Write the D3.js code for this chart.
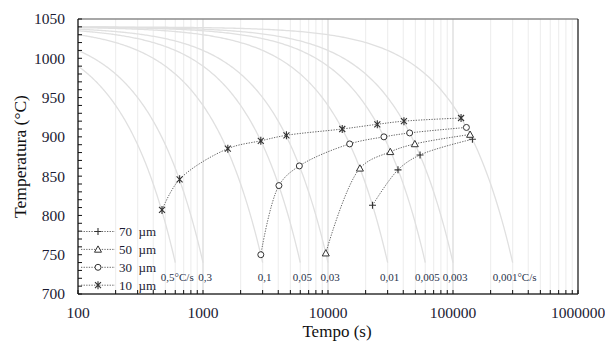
<!DOCTYPE html>
<html>
<head>
<meta charset="utf-8">
<script src="https://cdn.jsdelivr.net/npm/d3@7"></script>
<style>
  html, body { margin: 0; padding: 0; background: #fff; }
  svg { display: block; }
</style>
</head>
<body>
<svg id="chart" width="605" height="343"></svg>
<script>
// ---- data ----
const rates = [0.5, 0.3, 0.1, 0.05, 0.03, 0.01, 0.005, 0.003, 0.001];
const rateLabels = ["0,5°C/s", "0,3", "0,1", "0,05", "0,03", "0,01", "0,005", "0,003", "0,001°C/s"];
const startTemp = 1040;
const endTemp = 740;

const legendNames = ["70  µm", "50  µm", "30  µm", "10  µm"];
const time70 = [22700, 36300, 54500, 143000];
const temp70 = [813, 858, 877, 897];
const time50 = [9600, 18000, 31500, 49500, 137000];
const temp50 = [752, 860, 881, 891, 903];
const time30 = [2900, 4050, 5900, 14900, 28000, 45000, 128000];
const temp30 = [750, 838, 863, 891, 900, 905, 912];
const time10 = [470, 650, 1580, 2900, 4650, 13000, 24800, 40500, 116000];
const temp10 = [807, 846, 885, 895, 902, 910, 916, 920, 924];

const yTicks = [700, 750, 800, 850, 900, 950, 1000, 1050];
const xTicks = [100, 1000, 10000, 100000, 1000000];
const xTickLabels = ["100", "1000", "10000", "100000", "1000000"];
const xTitle = "Tempo (s)";
const yTitle = "Temperatura (°C)";

// ---- layout ----
const FONT = "Liberation Serif";
const L = 78, R = 578, T = 19, B = 294;
const svg = d3.select("#chart");
const x = d3.scaleLog().domain([100, 1000000]).range([L, R]);
const y = d3.scaleLinear().domain([700, 1050]).range([B, T]);

// vertical gridlines (minor + major)
const minor = [];
for (let d = 100; d < 1000000; d *= 10) for (let k = 1; k <= 9; k++) minor.push(d * k);
minor.push(1000000);
svg.append("g").selectAll("line").data(minor.filter(v => v > 100 && v < 1000000)).join("line")
  .attr("x1", d => x(d)).attr("x2", d => x(d)).attr("y1", T).attr("y2", B)
  .attr("stroke", d => xTicks.includes(d) ? "#d9d9d9" : "#efefef").attr("stroke-width", 1.2);

// cooling curves
svg.append("clipPath").attr("id", "plotclip").append("rect")
  .attr("x", L).attr("y", T).attr("width", R - L).attr("height", B - T);
const coolG = svg.append("g").attr("clip-path", "url(#plotclip)");
const coolLine = d3.line().x(d => x(d[0])).y(d => y(d[1]));
rates.forEach(r => {
  const tEnd = (startTemp - endTemp) / r;
  const pts = [];
  const n = 200;
  const lo = Math.log10(100), hi = Math.log10(tEnd);
  for (let i = 0; i <= n; i++) {
    const t = Math.pow(10, lo + (hi - lo) * i / n);
    pts.push([t, startTemp - r * t]);
  }
  coolG.append("path").attr("d", coolLine(pts)).attr("fill", "none")
    .attr("stroke", "#e0e0e0").attr("stroke-width", 1.3);
});

// rate labels
svg.append("g").selectAll("text").data(rates).join("text")
  .attr("x", r => x((startTemp - endTemp) / r) + 2)
  .attr("y", 281)
  .attr("text-anchor", "middle")
  .attr("font-family", FONT)
  .attr("font-size", 11)
  .attr("fill", "#27324a")
  .text((r, i) => rateLabels[i]);

// axes frame
svg.append("line").attr("x1", L).attr("x2", R).attr("y1", T).attr("y2", T).attr("stroke", "#8a8a8a").attr("stroke-width", 1.6);
svg.append("line").attr("x1", R).attr("x2", R).attr("y1", T).attr("y2", B).attr("stroke", "#222").attr("stroke-width", 1.3);
svg.append("line").attr("x1", L).attr("x2", R).attr("y1", B).attr("y2", B).attr("stroke", "#333").attr("stroke-width", 1.3);
svg.append("line").attr("x1", L).attr("x2", L).attr("y1", T).attr("y2", B).attr("stroke", "#111").attr("stroke-width", 1.3);

// inward minor ticks
const yMinor = d3.range(700, 1051, 10);
svg.append("g").selectAll("line").data(yMinor).join("line")
  .attr("x1", L).attr("x2", L + 4).attr("y1", d => y(d)).attr("y2", d => y(d))
  .attr("stroke", "#111").attr("stroke-width", 1);
svg.append("g").selectAll("line").data(minor).join("line")
  .attr("x1", d => x(d)).attr("x2", d => x(d)).attr("y1", B).attr("y2", B - 4)
  .attr("stroke", "#111").attr("stroke-width", 1);

// tick labels
svg.append("g").selectAll("text").data(yTicks).join("text")
  .attr("x", 65).attr("y", d => y(d)).attr("dy", "0.35em")
  .attr("text-anchor", "end").attr("font-family", FONT).attr("font-size", 15.5).attr("fill", "#1b1b33")
  .text(d => d);
svg.append("g").selectAll("text").data(xTicks).join("text")
  .attr("x", d => x(d)).attr("y", 318)
  .attr("text-anchor", "middle").attr("font-family", FONT).attr("font-size", 15.5).attr("fill", "#1b1b33")
  .text((d, i) => xTickLabels[i]);

// titles
svg.append("text").attr("x", 337).attr("y", 337).attr("text-anchor", "middle")
  .attr("font-family", FONT).attr("font-size", 17).attr("fill", "#111").text(xTitle);
svg.append("text").attr("transform", `translate(26,${(T + B) / 2}) rotate(-90)`)
  .attr("text-anchor", "middle").attr("font-family", FONT).attr("font-size", 17.5).attr("fill", "#111").text(yTitle);

// markers
function drawMarker(g, type, cx, cy) {
  const c = "#333";
  if (type === "plus") {
    g.append("path").attr("d", `M${cx-3.5},${cy}H${cx+3.5}M${cx},${cy-3.5}V${cy+3.5}`).attr("stroke", c).attr("stroke-width", 1.1);
  } else if (type === "tri") {
    g.append("path").attr("d", `M${cx},${cy-3.5}L${cx+3.5},${cy+2.8}L${cx-3.5},${cy+2.8}Z`).attr("stroke", c).attr("fill", "#fff").attr("stroke-width", 1);
  } else if (type === "circ") {
    g.append("circle").attr("cx", cx).attr("cy", cy).attr("r", 3).attr("stroke", c).attr("fill", "#fff").attr("stroke-width", 1);
  } else {
    g.append("path").attr("d", `M${cx-3},${cy-3}L${cx+3},${cy+3}M${cx-3},${cy+3}L${cx+3},${cy-3}M${cx},${cy-4}V${cy+4}`)
      .attr("stroke", c).attr("stroke-width", 1.1);
  }
}

const series = [
  { name: legendNames[0], t: time70, v: temp70, m: "plus" },
  { name: legendNames[1], t: time50, v: temp50, m: "tri" },
  { name: legendNames[2], t: time30, v: temp30, m: "circ" },
  { name: legendNames[3], t: time10, v: temp10, m: "star" }
];
const sLine = d3.line().x(d => x(d[0])).y(d => y(d[1])).curve(d3.curveCatmullRom.alpha(0.5));
const sg = svg.append("g");
series.forEach(s => {
  const pts = s.t.map((t, i) => [t, s.v[i]]);
  sg.append("path").attr("d", sLine(pts)).attr("fill", "none")
    .attr("stroke", "#555").attr("stroke-width", 0.9).attr("stroke-dasharray", "1.3,1.3");
});
series.forEach(s => {
  s.t.forEach((t, i) => drawMarker(sg, s.m, x(t), y(s.v[i])));
});

// legend
const lg = svg.append("g");
series.forEach((s, i) => {
  const ly = 231.5 + i * 17.9;
  lg.append("line").attr("x1", 81).attr("x2", 115).attr("y1", ly).attr("y2", ly)
    .attr("stroke", "#555").attr("stroke-width", 0.9).attr("stroke-dasharray", "1.3,1.3");
  drawMarker(lg, s.m, 98, ly);
  lg.append("text").attr("x", 119).attr("y", ly).attr("dy", "0.35em")
    .attr("font-family", FONT)
    .attr("font-size", 13).attr("fill", "#1b1b33").attr("xml:space", "preserve")
    .style("white-space", "pre").text(s.name);
});
</script>
</body>
</html>
